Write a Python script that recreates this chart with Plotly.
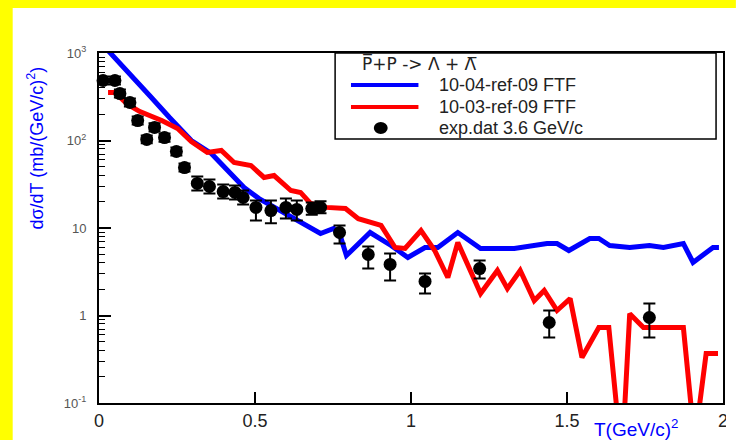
import plotly.graph_objects as go

# ---------------- data ----------------
blue_T = [0.029, 0.099, 0.162, 0.226, 0.296, 0.360, 0.417, 0.465, 0.513, 0.561,
          0.608, 0.646, 0.710, 0.752, 0.775, 0.793, 0.869, 0.936, 0.990, 1.045,
          1.086, 1.150, 1.223, 1.331, 1.436, 1.468, 1.506, 1.573, 1.602, 1.637,
          1.701, 1.764, 1.809, 1.873, 1.904, 1.968, 1.987]
blue_v = [1068, 583, 327, 183, 100, 71.0, 43.1, 29.0, 21.7, 17.2,
          13.9, 11.6, 8.65, 9.87, 7.79, 4.85, 8.88, 6.31, 4.60, 5.99,
          5.99, 8.88, 5.83, 5.83, 6.65, 6.65, 5.53, 7.59, 7.59, 6.31,
          5.99, 6.31, 5.99, 6.65, 4.04, 5.99, 5.99]

red_T = [0.029, 0.051, 0.092, 0.131, 0.201, 0.252, 0.296, 0.347, 0.392, 0.433,
         0.487, 0.529, 0.561, 0.615, 0.646, 0.678, 0.729, 0.790, 0.831, 0.904,
         0.949, 0.981, 1.032, 1.076, 1.118, 1.150, 1.223, 1.277, 1.309, 1.350,
         1.395, 1.427, 1.468, 1.510, 1.548, 1.602, 1.634, 1.659, 1.685, 1.701,
         1.745, 1.873, 1.898, 1.924, 1.946, 1.984]
red_v = [354, 354, 258, 214, 169, 137, 97.4, 72.9, 76.9, 56.1,
         51.8, 37.8, 39.8, 26.8, 25.5, 19.1, 17.2, 16.7, 12.8, 10.7,
         5.99, 5.83, 9.36, 5.53, 2.72, 6.83, 1.78, 3.27, 2.03, 3.27,
         1.48, 1.93, 1.14, 1.56, 0.331, 0.729, 0.729, 0.09, 0.09, 1.05,
         0.729, 0.729, 0.09, 0.09, 0.368, 0.368]

exp_T = [0.013, 0.051, 0.067, 0.099, 0.124, 0.178, 0.153, 0.210, 0.248, 0.274,
         0.315, 0.354, 0.398, 0.436, 0.462, 0.503, 0.551, 0.599, 0.634, 0.682,
         0.710, 0.771, 0.863, 0.933, 1.045, 1.220, 1.443, 1.764]
exp_v = [485, 485, 344, 272, 169, 141, 103, 108, 74.9, 49.1,
         32.3, 29.8, 26.1, 25.5, 22.3, 17.2, 15.8, 17.2, 16.3, 16.7,
         17.2, 8.88, 4.98, 3.83, 2.45, 3.44, 0.832, 0.949]
exp_hi = [539, 539, 382, 302, 188, 157, 114, 120, 83.2, 54.5,
          38.8, 35.8, 31.4, 30.6, 26.8, 20.6, 20.6, 21.7, 20.6, 19.6,
          20.2, 10.7, 6.15, 5.11, 3.02, 4.25, 1.14, 1.37]
exp_lo = [437, 437, 310, 245, 152, 127, 93, 97, 67.4, 44.2,
          26.9, 24.8, 21.7, 21.2, 18.6, 12.2, 11.3, 12.8, 12.2, 14.2,
          14.7, 6.65, 3.44, 2.51, 1.78, 2.65, 0.561, 0.561]

x_tick_vals = [0, 0.5, 1, 1.5, 2]
x_tick_text = ["0", "0.5", "1", "1.5", "2"]
y_tick_vals = [0.1, 1, 10, 100, 1000]
y_tick_text = ["10<sup>-1</sup>", "1", "10", "10<sup>2</sup>", "10<sup>3</sup>"]

legend_header = "P\u0305+P -> \u039b + \u039b\u0305"
legend_labels = ["10-04-ref-09 FTF", "10-03-ref-09 FTF", "exp.dat 3.6 GeV/c"]
x_title = "T(GeV/c)<sup>2</sup>"
y_title = "d\u03c3/dT (mb/(GeV/c)<sup>2</sup>)"

# ---------------- geometry helpers (pixel -> paper) ----------------
W, H = 736, 440
L, R, T, B = 99, 8, 53, 37
PW, PH = W - L - R, H - T - B


def px(x):
    return (x - L) / PW


def py(y):
    return (H - B - y) / PH


FONT = "Liberation Sans, Arial, Helvetica, sans-serif"

fig = go.Figure()

fig.add_trace(go.Scatter(x=blue_T, y=blue_v, mode="lines",
                         line=dict(color="#0000ff", width=5), name=legend_labels[0]))
fig.add_trace(go.Scatter(x=red_T, y=red_v, mode="lines",
                         line=dict(color="#ff0000", width=5), name=legend_labels[1]))
fig.add_trace(go.Scatter(
    x=exp_T, y=exp_v, mode="markers", name=legend_labels[2],
    marker=dict(color="black", size=13, symbol="circle"),
    error_y=dict(type="data", symmetric=False,
                 array=[h - v for h, v in zip(exp_hi, exp_v)],
                 arrayminus=[v - lo for v, lo in zip(exp_v, exp_lo)],
                 color="black", thickness=2, width=6),
    cliponaxis=False))

shapes = [
    # yellow strips of the page (left and top)
    dict(type="rect", xref="paper", yref="paper", x0=px(-5), x1=px(12),
         y0=py(H + 5), y1=py(-5), fillcolor="#ffff00", line=dict(width=0), layer="below"),
    dict(type="rect", xref="paper", yref="paper", x0=px(-5), x1=px(W + 5),
         y0=py(8), y1=py(-5), fillcolor="#ffff00", line=dict(width=0), layer="below"),
    # keep the right margin white
    dict(type="rect", xref="paper", yref="paper", x0=px(731), x1=px(W + 30),
         y0=py(H + 30), y1=py(8), fillcolor="white", line=dict(width=0), layer="above"),
    # legend box
    dict(type="rect", xref="paper", yref="paper", x0=px(337), x1=px(721),
         y0=py(139), y1=py(53), fillcolor="white", line=dict(color="black", width=1.5)),
    dict(type="line", xref="paper", yref="paper", x0=px(353), x1=px(421),
         y0=py(85), y1=py(85), line=dict(color="#0000ff", width=4)),
    dict(type="line", xref="paper", yref="paper", x0=px(353), x1=px(421),
         y0=py(107), y1=py(107), line=dict(color="#ff0000", width=4)),
    dict(type="circle", xref="paper", yref="paper", x0=px(376), x1=px(390),
         y0=py(134), y1=py(122), fillcolor="black", line=dict(width=0)),
]

annotations = [
    dict(text=legend_header, x=px(362), y=py(63), xref="paper", yref="paper",
         xanchor="left", yanchor="middle", showarrow=False,
         font=dict(family="DejaVu Sans, " + FONT, size=17, color="#222")),
    dict(text=legend_labels[0], x=px(440), y=py(85), xref="paper", yref="paper",
         xanchor="left", yanchor="middle", showarrow=False,
         font=dict(family=FONT, size=18, color="#222")),
    dict(text=legend_labels[1], x=px(440), y=py(107), xref="paper", yref="paper",
         xanchor="left", yanchor="middle", showarrow=False,
         font=dict(family=FONT, size=18, color="#222")),
    dict(text=legend_labels[2], x=px(440), y=py(128), xref="paper", yref="paper",
         xanchor="left", yanchor="middle", showarrow=False,
         font=dict(family=FONT, size=18, color="#222")),
    dict(text=y_title, x=px(35), y=py(148), xref="paper", yref="paper",
         xanchor="center", yanchor="middle", textangle=-90, showarrow=False,
         font=dict(family=FONT, size=18, color="#0000ff")),
    dict(text=x_title, x=px(640), y=py(428), xref="paper", yref="paper",
         xanchor="center", yanchor="middle", showarrow=False,
         font=dict(family=FONT, size=19, color="#0000ff")),
]

fig.update_layout(
    width=W, height=H,
    margin=dict(l=L, r=R, t=T, b=B, pad=0),
    paper_bgcolor="white",
    plot_bgcolor="white",
    showlegend=False,
    shapes=shapes,
    annotations=annotations,
    xaxis=dict(range=[0, 2], tickmode="array", tickvals=x_tick_vals, ticktext=x_tick_text,
               ticks="inside", ticklen=11, tickwidth=1.5, tickcolor="black",
               showline=True, linecolor="black", linewidth=2, mirror=True,
               showgrid=False, zeroline=False, ticklabelstandoff=0,
               tickfont=dict(family=FONT, size=18, color="#222")),
    yaxis=dict(type="log", range=[-1, 3], tickmode="array", tickvals=y_tick_vals,
               ticktext=y_tick_text, ticks="inside", ticklen=12, tickwidth=1.5,
               tickcolor="black", showline=True, linecolor="black", linewidth=2,
               mirror=True, showgrid=False, zeroline=False, ticklabelstandoff=8,
               minor=dict(ticks="inside", ticklen=6, tickwidth=1, tickcolor="black",
                          dtick="D1", showgrid=False),
               tickfont=dict(family=FONT, size=13, color="#555")),
)

fig.write_html("out.html")
